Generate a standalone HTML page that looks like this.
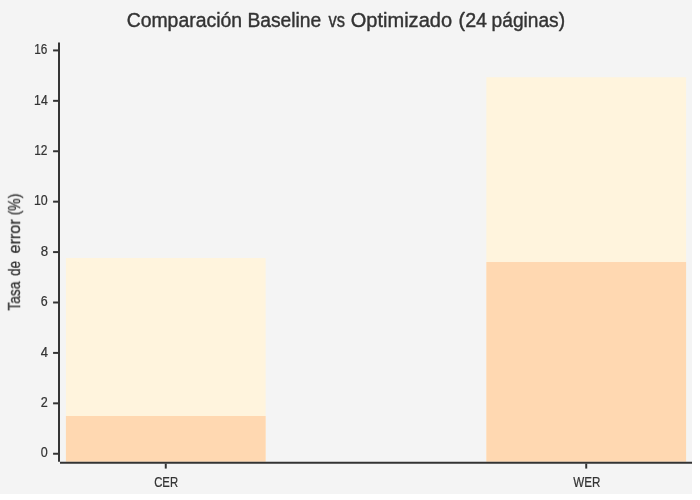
<!DOCTYPE html>
<html lang="es">
<head>
<meta charset="utf-8">
<title>Comparación Baseline vs Optimizado (24 páginas)</title>
<style>
  html, body { margin: 0; padding: 0; background: #ffffff; }
  body { width: 700px; height: 500px; overflow: hidden; }
  svg { display: block; will-change: transform; font-family: "Liberation Sans", "DejaVu Sans", sans-serif; }
  .bg { fill: #f4f4f4; }
  text { fill: #333333; stroke: #333333; stroke-width: 0.4px; stroke-linejoin: round; }
  .ln { stroke: #333333; fill: none; }
  .label text { stroke-width: 0.22px; }
  .title text { stroke-width: 0.3px; }
</style>
</head>
<body>
<svg width="692" height="494.29" viewBox="0 0 700 500" role="img" aria-label="Comparación Baseline vs Optimizado (24 páginas)">
  <rect class="bg" x="0" y="0" width="700" height="500"/>

  <!-- chart title -->
  <g class="chart-title">
    <text y="26.9" font-size="20" lengthAdjust="spacingAndGlyphs"><tspan id="w1" x="128.1" textLength="116.81" lengthAdjust="spacingAndGlyphs">Comparación</tspan> <tspan id="w2" x="250.24" textLength="74.79" lengthAdjust="spacingAndGlyphs">Baseline</tspan> <tspan id="w3" x="332.3" textLength="16.72" lengthAdjust="spacingAndGlyphs">vs</tspan> <tspan id="w4" x="354.78" textLength="102.51" lengthAdjust="spacingAndGlyphs">Optimizado</tspan> <tspan id="w5" x="463.89" textLength="28.78" lengthAdjust="spacingAndGlyphs">(24</tspan> <tspan id="w6" x="497.3" textLength="74.3" lengthAdjust="spacingAndGlyphs">páginas)</tspan></text>
  </g>

  <!-- plot: bars -->
  <g class="plot">
    <g class="bar-plot-0" fill="#FFF4DD">
      <rect x="66.67" y="261.0" width="202.03" height="206.0"/>
      <rect x="491.99" y="78.15" width="202.03" height="388.85"/>
    </g>
    <g class="bar-plot-1" fill="#FFD8B1">
      <rect x="66.67" y="420.8" width="202.03" height="46.2"/>
      <rect x="491.99" y="265.05" width="202.03" height="201.95"/>
    </g>
  </g>

  <!-- bottom axis -->
  <g class="bottom-axis">
    <path class="ln" d="M 60.68,468 L 700,468" stroke-width="2"/>
    <g class="label" font-size="14">
      <text id="xl0" x="155.97" y="492.2" textLength="24.17" lengthAdjust="spacingAndGlyphs">CER</text>
      <text id="xl1" x="579.79" y="492.2" textLength="27.48" lengthAdjust="spacingAndGlyphs">WER</text>
    </g>
    <g class="ticks" stroke-width="2">
      <path class="ln" d="M 167.68,469 L 167.68,474"/>
      <path class="ln" d="M 593,469 L 593,474"/>
    </g>
  </g>

  <!-- left axis -->
  <g class="left-axis">
    <path class="ln" d="M 59.68,43 L 59.68,467" stroke-width="2"/>
    <g class="label" font-size="14">
      <text id="y0" x="34.62" y="54.62" textLength="13.28" lengthAdjust="spacingAndGlyphs">16</text>
      <text id="y1" x="34.47" y="106.21" textLength="13.79" lengthAdjust="spacingAndGlyphs">14</text>
      <text id="y2" x="34.56" y="156.79" textLength="13.47" lengthAdjust="spacingAndGlyphs">12</text>
      <text id="y3" x="34.35" y="207.37" textLength="13.96" lengthAdjust="spacingAndGlyphs">10</text>
      <text id="y4" x="41.15" y="258.96" textLength="7.45" lengthAdjust="spacingAndGlyphs">8</text>
      <text id="y5" x="41.28" y="309.54" textLength="7.01" lengthAdjust="spacingAndGlyphs">6</text>
      <text id="y6" x="41.33" y="361.13" textLength="7.33" lengthAdjust="spacingAndGlyphs">4</text>
      <text id="y7" x="41.13" y="411.71" textLength="7.1" lengthAdjust="spacingAndGlyphs">2</text>
      <text id="y8" x="41.22" y="462.28" textLength="7.06" lengthAdjust="spacingAndGlyphs">0</text>
    </g>
    <g class="ticks" stroke-width="2">
      <path class="ln" d="M 58.68,51 L 53.68,51"/>
      <path class="ln" d="M 58.68,102 L 53.68,102"/>
      <path class="ln" d="M 58.68,153 L 53.68,153"/>
      <path class="ln" d="M 58.68,204 L 53.68,204"/>
      <path class="ln" d="M 58.68,255 L 53.68,255"/>
      <path class="ln" d="M 58.68,306 L 53.68,306"/>
      <path class="ln" d="M 58.68,357 L 53.68,357"/>
      <path class="ln" d="M 58.68,408 L 53.68,408"/>
      <path class="ln" d="M 58.68,459 L 53.68,459"/>
    </g>
    <g class="title">
      <text y="0" font-size="16" transform="translate(20.23,0) rotate(270)"><tspan id="t1" x="-314.25" textLength="29.46" lengthAdjust="spacingAndGlyphs">Tasa</tspan> <tspan id="t2" x="-278.97" textLength="14.94" lengthAdjust="spacingAndGlyphs">de</tspan> <tspan id="t3" x="-256.44" textLength="34.55" lengthAdjust="spacingAndGlyphs">error</tspan> <tspan id="t4" x="-217.84" textLength="21.95" lengthAdjust="spacingAndGlyphs">(%)</tspan></text>
    </g>
  </g>
</svg>
</body>
</html>
